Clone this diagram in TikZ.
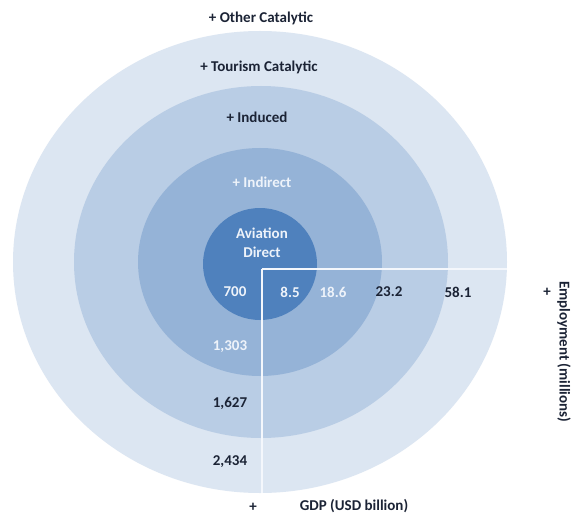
\documentclass[tikz,border=0pt]{standalone}
\usepackage{fontspec}
\setmainfont{Carlito}
\definecolor{ringA}{HTML}{4F81BD}% aviation direct
\definecolor{ringB}{HTML}{95B3D7}% indirect
\definecolor{ringC}{HTML}{B9CDE5}% induced
\definecolor{ringD}{HTML}{DCE6F2}% tourism catalytic
\definecolor{ink}{HTML}{1B2335}
\definecolor{pale}{HTML}{EEF3FA}
\definecolor{axisline}{HTML}{F4F7FC}
\begin{document}
\begin{tikzpicture}[x=1pt,y=-1pt,
  lbl/.style={font=\fontsize{15}{17}\selectfont\bfseries, text=ink, inner sep=0pt, anchor=center},
  lightlbl/.style={lbl, text=pale},
  axis/.style={draw=axisline, line width=2pt}]
\useasboundingbox (0,0) rectangle (573,516);
\clip (0,0) rectangle (573,516);
\fill[white] (0,0) rectangle (573,516);

% nested impact circles
\fill[ringD] (260,262) ellipse [x radius=247pt, y radius=231pt];
\fill[ringC] (261,262) ellipse [x radius=187pt, y radius=176pt];
\fill[ringB] (260,262) ellipse [x radius=122pt, y radius=114pt];
\fill[ringA] (260,264) ellipse [x radius=57pt, y radius=56pt];

% axes for employment (right) and GDP (down)
\coordinate (o) at (262,269);
\coordinate (ex) at (507,269);
\coordinate (gy) at (262,493);
\draw[axis] (o) -- (ex);
\draw[axis] (o) -- (gy);

% layer titles
\node[lbl] (other) at (261,18) {+ Other Catalytic};
\node[lbl] (tour) at (259,67) {+ Tourism Catalytic};
\node[lbl] (induced) at (257,117) {+ Induced};
\node[lightlbl] (indirect) at (262,182) {+ Indirect};
\node[lightlbl] (avi) at (262,233) {Aviation};
\node[lightlbl] (dir) at (262,252) {Direct};

% employment row
\node[lightlbl] (g1) at (235,292) {700};
\node[lightlbl] (e1) at (290,292) {8.5};
\node[lightlbl] (e2) at (333,292) {18.6};
\node[lbl] (e3) at (389,292) {23.2};
\node[lbl] (e4) at (458,292) {58.1};
\node[lbl] (eplus) at (547,292) {+};
\node[lbl, rotate=-90, anchor=west] (emp) at (564,281) {Employment (millions)};

% GDP column
\node[lightlbl] (g2) at (230,347) {1,303};
\node[lbl] (g3) at (230,403) {1,627};
\node[lbl] (g4) at (230,462) {2,434};
\node[lbl] (gplus) at (253,507) {+};
\node[lbl] (gdp) at (354,506) {GDP (USD billion)};
\end{tikzpicture}
\end{document}
